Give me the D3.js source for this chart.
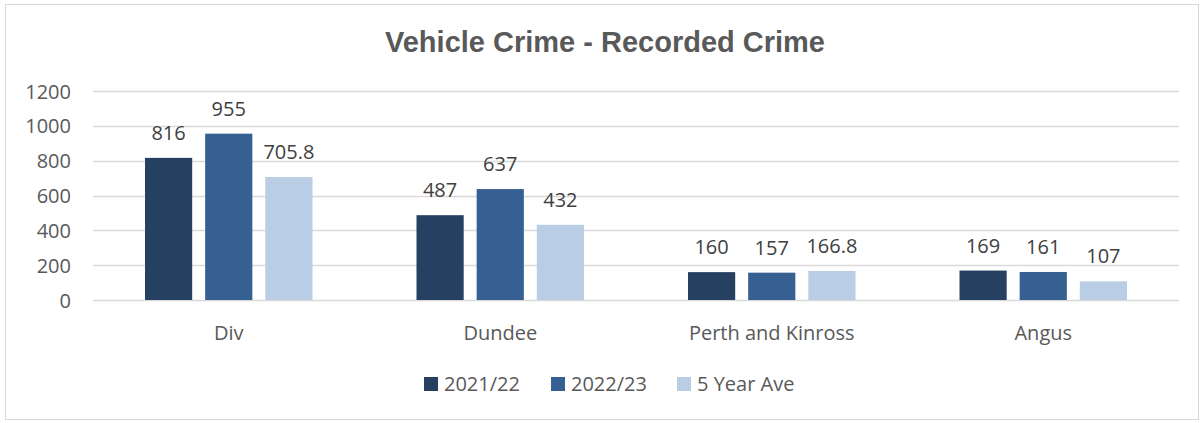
<!DOCTYPE html>
<html><head><meta charset="utf-8">
<script src="https://cdn.jsdelivr.net/npm/d3@7"></script>
<style>body{margin:0;background:#fff}svg{display:block}</style>
</head><body>
<script>
const categories = ["Div", "Dundee", "Perth and Kinross", "Angus"];
const seriesNames = ["2021/22", "2022/23", "5 Year Ave"];
const values2122 = [816, 487, 160, 169];
const values2223 = [955, 637, 157, 161];
const values5yr = [705.8, 432, 166.8, 107];
const yTicks = [0, 200, 400, 600, 800, 1000, 1200];
const colors = ["#264061", "#376092", "#B9CDE5"];

(function () {
const W = 1203, H = 423;
const font = "'Open Sans', sans-serif";
const svg = d3.select("body").append("svg").attr("width", W).attr("height", H);
svg.append("rect").attr("width", W).attr("height", H).attr("fill", "#fff");
svg.append("rect").attr("x", 5.5).attr("y", 4.5).attr("width", 1193).attr("height", 415)
  .attr("fill", "none").attr("stroke", "#d9d9d9").attr("stroke-width", 1);

svg.append("text").attr("x", 605).attr("y", 52).attr("text-anchor", "middle")
  .attr("font-family", "'Liberation Sans', Arial, sans-serif").attr("font-weight", "bold")
  .attr("font-size", 29).attr("fill", "#595959").text("Vehicle Crime - Recorded Crime");

const pLeft = 93, pRight = 1179, pTop = 91, pBottom = 300;
const y = d3.scaleLinear().domain([0, 1200]).range([pBottom, pTop]);
const x0 = d3.scaleBand().domain(categories).range([pLeft, pRight]).paddingInner(0).paddingOuter(0);
const groupW = 167.5;
const x1 = d3.scaleBand().domain(seriesNames).range([0, groupW]).paddingInner(13/60.3).paddingOuter(0);

svg.append("g").selectAll("line").data(yTicks).join("line")
  .attr("x1", pLeft).attr("x2", pRight)
  .attr("y1", d => Math.round(y(d)) + 0.5).attr("y2", d => Math.round(y(d)) + 0.5)
  .attr("stroke", "#d9d9d9").attr("stroke-width", 1.5);

const yAxis = d3.axisLeft(y).tickValues(yTicks).tickFormat(d3.format("d")).tickSize(0).tickPadding(0);
const ya = svg.append("g").attr("transform", `translate(71,0)`).call(yAxis);
ya.select(".domain").remove();
ya.selectAll("text").attr("font-family", font).attr("font-size", 20).attr("fill", "#595959").attr("dy", "0.35em");

const series = [values2122, values2223, values5yr];
const data = [];
categories.forEach((c, i) => series.forEach((s, j) => data.push({c, s: seriesNames[j], v: s[i], j})));

const gx = c => x0(c) + (x0.bandwidth() - groupW) / 2;

svg.append("g").selectAll("rect").data(data).join("rect")
  .attr("x", d => gx(d.c) + x1(d.s))
  .attr("y", d => y(d.v))
  .attr("width", x1.bandwidth())
  .attr("height", d => pBottom - y(d.v))
  .attr("fill", d => colors[d.j]);

svg.append("g").selectAll("text").data(data).join("text")
  .attr("x", d => gx(d.c) + x1(d.s) + x1.bandwidth() / 2)
  .attr("y", d => y(d.v) - 18)
  .attr("text-anchor", "middle").attr("font-family", font).attr("font-size", 20)
  .attr("fill", "#404040").text(d => d.v);

const xAxis = d3.axisBottom(x0).tickSize(0).tickPadding(0);
const xa = svg.append("g").attr("transform", `translate(0,${pBottom})`).call(xAxis);
xa.select(".domain").remove();
xa.selectAll("text").attr("font-family", font).attr("font-size", 20).attr("fill", "#595959")
  .attr("dy", null).attr("y", 40);

const legX = [424, 551, 677];
const lg = svg.append("g").selectAll("g").data(seriesNames).join("g")
  .attr("transform", (d, i) => `translate(${legX[i]},0)`);
lg.append("rect").attr("x", 0).attr("y", 377).attr("width", 14).attr("height", 14)
  .attr("fill", (d, i) => colors[i]);
lg.append("text").attr("x", 20).attr("y", 391).attr("font-family", font).attr("font-size", 20)
  .attr("fill", "#595959").text(d => d);
})();
</script>
</body></html>
